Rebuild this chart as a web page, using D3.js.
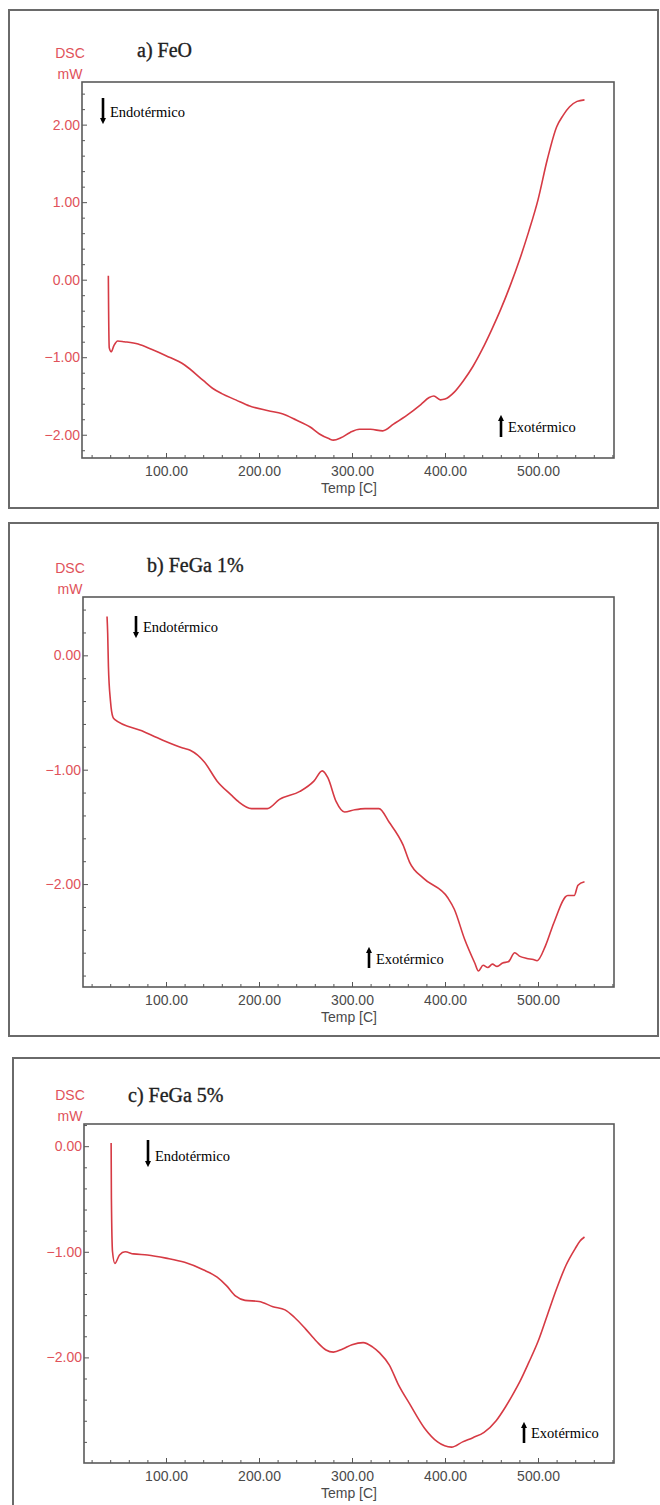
<!DOCTYPE html>
<html>
<head>
<meta charset="utf-8">
<script src="https://cdn.jsdelivr.net/npm/d3@7"></script>
<style>
  body { margin: 0; background: #fff; }
  svg { display: block; }
</style>
</head>
<body>
<div id="chart"></div>
<script>
// tick values shared by the three panels
const xTicks = [100, 200, 300, 400, 500];
const xTickLabels = ['100.00', '200.00', '300.00', '400.00', '500.00'];
const yTicksA = [2, 1, 0, -1, -2];
const yTicksB = [0, -1, -2];
const yTicksC = [0, -1, -2];
const titles = ['a) FeO', 'b) FeGa 1%', 'c) FeGa 5%'];

// a) FeO
const tempA = [38, 38.3, 39, 41, 44, 48, 55, 70, 85, 100, 120, 140, 150, 160, 175, 190, 210, 225, 240, 255, 265,
  275, 280, 288, 298, 308, 320, 333, 345, 360, 374, 383, 388, 395, 400, 410, 420, 430, 440, 450, 460, 470,
  480, 490, 500, 510, 520, 527, 534, 542, 550];
const dscA = [0.05, -0.4, -0.88, -0.93, -0.85, -0.79, -0.8, -0.83, -0.9, -0.98, -1.1, -1.3, -1.4, -1.47, -1.55,
  -1.63, -1.69, -1.73, -1.81, -1.9, -1.99, -2.05, -2.07, -2.04, -1.97, -1.93, -1.93, -1.95, -1.86, -1.74,
  -1.61, -1.52, -1.5, -1.55, -1.54, -1.45, -1.3, -1.12, -0.9, -0.65, -0.38, -0.08, 0.25, 0.62, 1.03, 1.55,
  1.97, 2.12, 2.23, 2.3, 2.32];

// b) FeGa 1%
const tempB = [36.6, 37.3, 38.1, 40.3, 42.9, 44.7, 74, 96, 118, 126, 141, 155, 170, 178, 192, 209, 222, 244,
  259, 268, 274, 283, 292, 303, 314, 329, 340, 355, 362, 377, 403, 410, 421, 432, 436, 441, 446, 451, 456,
  462, 468, 475, 480, 488, 495, 499, 508, 517, 532, 539, 543, 550];
const dscB = [0.34, 0.19, -0.1, -0.4, -0.54, -0.56, -0.66, -0.74, -0.81, -0.83, -0.93, -1.1, -1.22, -1.28,
  -1.34, -1.34, -1.26, -1.19, -1.1, -1.01, -1.07, -1.28, -1.37, -1.35, -1.34, -1.34, -1.46, -1.66, -1.81,
  -1.95, -2.12, -2.22, -2.48, -2.69, -2.76, -2.71, -2.73, -2.7, -2.72, -2.69, -2.68, -2.6, -2.63, -2.65,
  -2.66, -2.67, -2.54, -2.34, -2.1, -2.1, -2.01, -1.98];

// c) FeGa 5%
const tempC = [41, 41.3, 42.5, 45, 50, 56, 65, 80, 100, 120, 140, 155, 165, 175, 185, 200, 215, 228, 238, 250,
  262, 272, 280, 290, 300, 312, 322, 330, 340, 350, 362, 378, 392, 407, 419, 430, 442, 455, 465, 473, 481,
  490, 500, 510, 520, 530, 540, 545, 550];
const dscC = [0.03, -0.5, -1.0, -1.11, -1.03, -1.0, -1.02, -1.03, -1.06, -1.1, -1.17, -1.24, -1.32, -1.42,
  -1.46, -1.47, -1.52, -1.55, -1.62, -1.73, -1.85, -1.93, -1.95, -1.92, -1.88, -1.86, -1.9, -1.96, -2.07,
  -2.26, -2.44, -2.67, -2.8, -2.85, -2.8, -2.76, -2.71, -2.6, -2.47, -2.35, -2.22, -2.05, -1.85, -1.6,
  -1.35, -1.13, -0.97, -0.9, -0.86];

const width = 660;
const height = 1505;

const red = '#e0525a';
const lineRed = '#d63a44';
const gray = '#555';

// layout of each panel (frame, plot box, y domain, annotation offsets)
const panels = [
  { title: titles[0], temp: tempA, dsc: dscA, yTicks: yTicksA, yDomain: [-2.30, 2.55],
    frame: { x: 9, y: 10, r: 658, b: 508, closed: true },
    box: { l: 82, t: 82, r: 614, b: 458 }, titleX: 137, titleY: 57,
    endo: { x: 103, y1: 98, y2: 124, ty: 117 }, exo: { x: 501, y1: 415, y2: 437, ty: 432 } },
  { title: titles[1], temp: tempB, dsc: dscB, yTicks: yTicksB, yDomain: [-2.90, 0.51],
    frame: { x: 9, y: 523, r: 658, b: 1036, closed: true },
    box: { l: 83, t: 597, r: 614, b: 987 }, titleX: 147, titleY: 572,
    endo: { x: 136, y1: 616, y2: 638, ty: 632 }, exo: { x: 369, y1: 947, y2: 968, ty: 964 } },
  { title: titles[2], temp: tempC, dsc: dscC, yTicks: yTicksC, yDomain: [-3.0, 0.21],
    frame: { x: 13, y: 1058, r: 670, b: 1520, closed: false },
    box: { l: 84, t: 1124, r: 614, b: 1463 }, titleX: 128, titleY: 1102,
    endo: { x: 148, y1: 1140, y2: 1167, ty: 1161 }, exo: { x: 524, y1: 1422, y2: 1443, ty: 1438 } }
];

const svg = d3.select('#chart')
  .append('svg')
  .attr('width', width)
  .attr('height', height);

// arrow heads
const defs = svg.append('defs');
defs.append('marker')
  .attr('id', 'head')
  .attr('viewBox', '0 0 10 10')
  .attr('refX', 5).attr('refY', 5)
  .attr('markerWidth', 2.4).attr('markerHeight', 2.4)
  .attr('orient', 'auto-start-reverse')
  .append('path')
  .attr('d', 'M0,0 L10,5 L0,10 z')
  .attr('fill', '#000');

panels.forEach(p => {
  const g = svg.append('g');
  const f = p.frame;
  const bx = p.box;

  // outer frame
  if (f.closed) {
    g.append('rect')
      .attr('x', f.x).attr('y', f.y)
      .attr('width', f.r - f.x).attr('height', f.b - f.y)
      .attr('fill', 'none').attr('stroke', '#6a6a6a').attr('stroke-width', 2);
  } else {
    g.append('path')
      .attr('d', `M${f.r},${f.y} L${f.x},${f.y} L${f.x},${f.b}`)
      .attr('fill', 'none').attr('stroke', '#6a6a6a').attr('stroke-width', 2);
  }

  // scales: 100 C sits at x=166, 93 px per 100 C
  const tAt = px => 100 + (px - 166) / 0.93;
  const x = d3.scaleLinear().domain([tAt(bx.l), tAt(bx.r)]).range([bx.l, bx.r]);
  const y = d3.scaleLinear().domain(p.yDomain).range([bx.b, bx.t]);

  // minor ticks
  const xMinor = d3.range(20, 581, 20).filter(v => xTicks.indexOf(v) < 0);
  g.append('g')
    .attr('transform', `translate(0,${bx.b})`)
    .call(d3.axisBottom(x).tickValues(xMinor).tickSize(-3).tickFormat(''))
    .call(a => a.select('.domain').remove())
    .selectAll('line').attr('stroke', gray);

  const yMinor = d3.range(-40, 41, 2).map(v => v / 10)
    .filter(v => v > p.yDomain[0] && v < p.yDomain[1] && !Number.isInteger(v));
  g.append('g')
    .attr('transform', `translate(${bx.l},0)`)
    .call(d3.axisLeft(y).tickValues(yMinor).tickSize(-3).tickFormat(''))
    .call(a => a.select('.domain').remove())
    .selectAll('line').attr('stroke', gray);

  // major ticks + labels
  const xAx = g.append('g')
    .attr('transform', `translate(0,${bx.b})`)
    .call(d3.axisBottom(x).tickValues(xTicks).tickSize(-5).tickPadding(8)
      .tickFormat((d, i) => xTickLabels[i]));
  xAx.select('.domain').remove();
  xAx.selectAll('line').attr('stroke', gray);
  xAx.selectAll('text')
    .attr('fill', '#4a4a4a')
    .style('font-family', 'Liberation Sans, Arial, sans-serif')
    .style('font-size', '14px');

  const yAx = g.append('g')
    .attr('transform', `translate(${bx.l},0)`)
    .call(d3.axisLeft(y).tickValues(p.yTicks).tickSize(-5).tickPadding(2)
      .tickFormat(d3.format('.2f')));
  yAx.select('.domain').remove();
  yAx.selectAll('line').attr('stroke', gray);
  yAx.selectAll('text')
    .attr('fill', red)
    .style('font-family', 'Liberation Sans, Arial, sans-serif')
    .style('font-size', '14px');

  // plot box
  g.append('rect')
    .attr('x', bx.l).attr('y', bx.t)
    .attr('width', bx.r - bx.l).attr('height', bx.b - bx.t)
    .attr('fill', 'none').attr('stroke', '#5a5a5a').attr('stroke-width', 1.6);

  // curve
  const line = d3.line()
    .curve(d3.curveMonotoneX)
    .x(d => x(d[0]))
    .y(d => y(d[1]));
  g.append('path')
    .datum(d3.zip(p.temp, p.dsc))
    .attr('fill', 'none')
    .attr('stroke', lineRed)
    .attr('stroke-width', 1.6)
    .attr('stroke-linejoin', 'round')
    .attr('d', line);

  // axis titles
  g.append('text')
    .attr('x', 70).attr('y', bx.t - 24)
    .attr('text-anchor', 'middle')
    .attr('fill', red)
    .style('font-family', 'Liberation Sans, Arial, sans-serif')
    .style('font-size', '14px')
    .text('DSC');
  g.append('text')
    .attr('x', 70).attr('y', bx.t - 3)
    .attr('text-anchor', 'middle')
    .attr('fill', red)
    .style('font-family', 'Liberation Sans, Arial, sans-serif')
    .style('font-size', '14px')
    .text('mW');
  g.append('text')
    .attr('x', 349).attr('y', bx.b + 35)
    .attr('text-anchor', 'middle')
    .attr('fill', '#4a4a4a')
    .style('font-family', 'Liberation Sans, Arial, sans-serif')
    .style('font-size', '14px')
    .text('Temp [C]');

  // panel title
  g.append('text')
    .attr('x', p.titleX).attr('y', p.titleY)
    .attr('fill', '#222')
    .attr('stroke', '#222')
    .attr('stroke-width', 0.35)
    .style('font-family', 'Liberation Serif, Times New Roman, serif')
    .style('font-size', '20px')
    .text(p.title);

  // endo / exo annotations
  g.append('line')
    .attr('x1', p.endo.x).attr('x2', p.endo.x)
    .attr('y1', p.endo.y1).attr('y2', p.endo.y2 - 3)
    .attr('stroke', '#000').attr('stroke-width', 2.6)
    .attr('marker-end', 'url(#head)');
  g.append('text')
    .attr('x', p.endo.x + 7).attr('y', p.endo.ty)
    .style('font-family', 'Liberation Serif, Times New Roman, serif')
    .style('font-size', '14.5px')
    .text('Endotérmico');

  g.append('line')
    .attr('x1', p.exo.x).attr('x2', p.exo.x)
    .attr('y1', p.exo.y2).attr('y2', p.exo.y1 + 3)
    .attr('stroke', '#000').attr('stroke-width', 2.6)
    .attr('marker-end', 'url(#head)');
  g.append('text')
    .attr('x', p.exo.x + 7).attr('y', p.exo.ty)
    .style('font-family', 'Liberation Serif, Times New Roman, serif')
    .style('font-size', '14.5px')
    .text('Exotérmico');
});
</script>
</body>
</html>
